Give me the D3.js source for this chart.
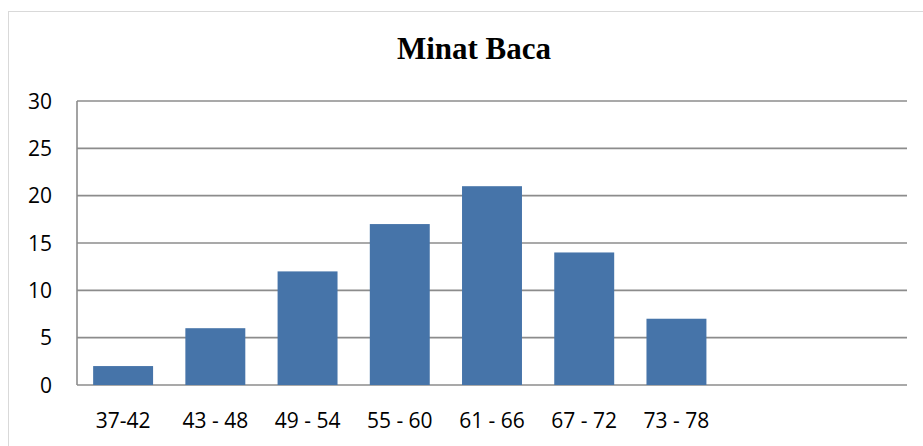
<!DOCTYPE html>
<html>
<head>
<meta charset="utf-8">
<script src="https://cdn.jsdelivr.net/npm/d3@7"></script>
<style>
  body { margin: 0; background: #fff; }
  svg { display: block; }
</style>
</head>
<body>
<div class="chart"></div>
<script>
// data
var categories = ["37-42", "43 - 48", "49 - 54", "55 - 60", "61 - 66", "67 - 72", "73 - 78", "", " "];
var values = [2, 6, 12, 17, 21, 14, 7, null, null];
var yTicks = [0, 5, 10, 15, 20, 25, 30];

var width = 923, height = 446;
var margin = { top: 101, right: 16, bottom: 61, left: 77 };

var svg = d3.select(".chart")
    .append("svg")
    .attr("width", width)
    .attr("height", height);

// outer chart border (only top and left are visible in frame)
svg.append("rect")
    .attr("x", 8.5)
    .attr("y", 11.5)
    .attr("width", 940)
    .attr("height", 460)
    .attr("fill", "none")
    .attr("stroke", "#d9d9d9")
    .attr("stroke-width", 1);

var x = d3.scaleBand()
    .domain(categories)
    .range([margin.left, width - margin.right])
    .paddingInner(0.35)
    .paddingOuter(0.175);

var y = d3.scaleLinear()
    .domain([0, 30])
    .range([height - margin.bottom, margin.top]);

// gridlines
svg.append("g")
    .selectAll("line")
    .data(yTicks)
    .enter().append("line")
    .attr("x1", margin.left)
    .attr("x2", width - margin.right)
    .attr("y1", function (d) { return y(d); })
    .attr("y2", function (d) { return y(d); })
    .attr("stroke", "#8c8c8c")
    .attr("stroke-width", 1.6);

// y axis line
svg.append("line")
    .attr("x1", margin.left)
    .attr("x2", margin.left)
    .attr("y1", y(30))
    .attr("y2", y(0))
    .attr("stroke", "#8c8c8c")
    .attr("stroke-width", 1.6);

// bars
svg.append("g")
    .selectAll("rect")
    .data(categories.map(function (c, i) { return { cat: c, value: values[i] }; })
        .filter(function (d) { return d.value != null; }))
    .enter().append("rect")
    .attr("x", function (d) { return x(d.cat); })
    .attr("width", x.bandwidth())
    .attr("y", function (d) { return y(d.value); })
    .attr("height", function (d) { return y(0) - y(d.value); })
    .attr("fill", "#4674a9");

var labelFont = "'Open Sans', sans-serif";

// y tick labels
svg.append("g")
    .selectAll("text")
    .data(yTicks)
    .enter().append("text")
    .attr("x", 52)
    .attr("y", function (d) { return y(d); })
    .attr("dy", "0.36em")
    .attr("text-anchor", "end")
    .style("font-family", labelFont)
    .style("font-size", "21px")
    .style("fill", "#000")
    .text(function (d) { return d; });

// x labels
svg.append("g")
    .selectAll("text")
    .data(categories)
    .enter().append("text")
    .attr("x", function (d) { return x(d) + x.bandwidth() / 2; })
    .attr("y", 420)
    .attr("dy", "0.36em")
    .attr("text-anchor", "middle")
    .style("font-family", labelFont)
    .style("font-size", "21px")
    .style("fill", "#000")
    .text(function (d) { return d; });

// title
svg.append("text")
    .attr("x", (margin.left + width - margin.right) / 2 - 18)
    .attr("y", 59)
    .attr("text-anchor", "middle")
    .style("font-family", "'Liberation Serif', 'Times New Roman', serif")
    .style("font-weight", "bold")
    .style("font-size", "31px")
    .text("Minat Baca");
</script>
</body>
</html>
